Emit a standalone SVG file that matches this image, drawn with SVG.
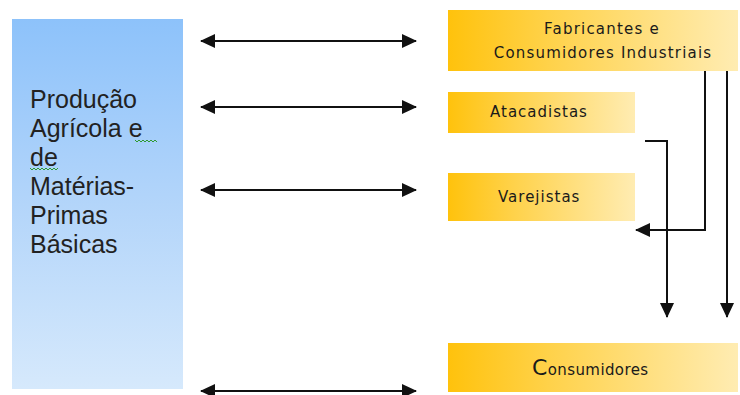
<svg xmlns="http://www.w3.org/2000/svg" width="740" height="395" viewBox="0 0 740 395">
  <defs>
    <linearGradient id="gBlue" x1="0" y1="0" x2="0" y2="1">
      <stop offset="0" stop-color="#8DC2FA"/>
      <stop offset="0.5" stop-color="#B3D5FA"/>
      <stop offset="1" stop-color="#D6E9FC"/>
    </linearGradient>
    <linearGradient id="gOrange" x1="0" y1="0" x2="1" y2="0">
      <stop offset="0" stop-color="#FFC20C"/>
      <stop offset="0.35" stop-color="#FFD24A"/>
      <stop offset="1" stop-color="#FFECB2"/>
    </linearGradient>
    <marker id="ah" markerUnits="userSpaceOnUse" markerWidth="15" markerHeight="14" refX="14" refY="7" orient="auto-start-reverse">
      <path d="M0,0 L15,7 L0,14 Z" fill="#111"/>
    </marker>
    <style>
      .lbl { font-family: "DejaVu Sans", Verdana, sans-serif; font-size: 15px; fill: #1a1a1a; letter-spacing: 1px; }
      .main { font-family: "Liberation Sans", Arial, sans-serif; font-size: 25px; fill: #222; }
      .conn { fill: none; stroke: #111; stroke-width: 2; }
      .sq { fill: none; stroke: #2e9a2e; stroke-width: 1; }
    </style>
  </defs>
  <rect width="740" height="395" fill="#fff"/>

  <g id="producao">
    <rect x="12" y="19" width="171" height="370" fill="url(#gBlue)"/>
    <text class="main" x="30" y="108">Produção</text>
    <text class="main" x="30" y="137">Agrícola e</text>
    <text class="main" x="30" y="166">de</text>
    <text class="main" x="30" y="195">Matérias-</text>
    <text class="main" x="30" y="224">Primas</text>
    <text class="main" x="30" y="253">Básicas</text>
    <polyline class="sq" points="135,140 137,142 139,140 141,142 143,140 145,142 147,140 149,142 151,140 153,142 155,140 157,142"/>
    <polyline class="sq" points="30,168 32,170 34,168 36,170 38,168 40,170 42,168 44,170 46,168 48,170 50,168 52,170 54,168 56,170 58,168"/>
  </g>

  <g id="fabricantes">
    <rect x="448" y="10" width="290" height="61" fill="url(#gOrange)"/>
    <text class="lbl" x="602" y="34" text-anchor="middle" style="letter-spacing:1.2px">Fabricantes e</text>
    <text class="lbl" x="603" y="58" text-anchor="middle" style="letter-spacing:1.2px">Consumidores Industriais</text>
  </g>

  <g id="atacadistas">
    <rect x="448" y="92" width="187" height="41" fill="url(#gOrange)"/>
    <text class="lbl" x="490" y="117">Atacadistas</text>
  </g>

  <g id="varejistas">
    <rect x="448" y="173" width="187" height="48" fill="url(#gOrange)"/>
    <text class="lbl" x="498" y="202">Varejistas</text>
  </g>

  <g id="consumidores">
    <rect x="448" y="343" width="290" height="49" fill="url(#gOrange)"/>
    <text class="lbl" x="532" y="375" style="letter-spacing:0.4px"><tspan font-size="22">C</tspan>onsumidores</text>
  </g>

  <g id="connectors">
    <line class="conn" x1="201" y1="41" x2="416" y2="41" marker-start="url(#ah)" marker-end="url(#ah)"/>
    <line class="conn" x1="201" y1="107" x2="416" y2="107" marker-start="url(#ah)" marker-end="url(#ah)"/>
    <line class="conn" x1="201" y1="190" x2="416" y2="190" marker-start="url(#ah)" marker-end="url(#ah)"/>
    <line class="conn" x1="201" y1="391" x2="416" y2="391" marker-start="url(#ah)" marker-end="url(#ah)"/>
    <polyline class="conn" points="645,141 667,141 667,317" marker-end="url(#ah)"/>
    <polyline class="conn" points="705,71 705,230 636,230" marker-end="url(#ah)"/>
    <line class="conn" x1="727" y1="71" x2="727" y2="317" marker-end="url(#ah)"/>
  </g>
</svg>
